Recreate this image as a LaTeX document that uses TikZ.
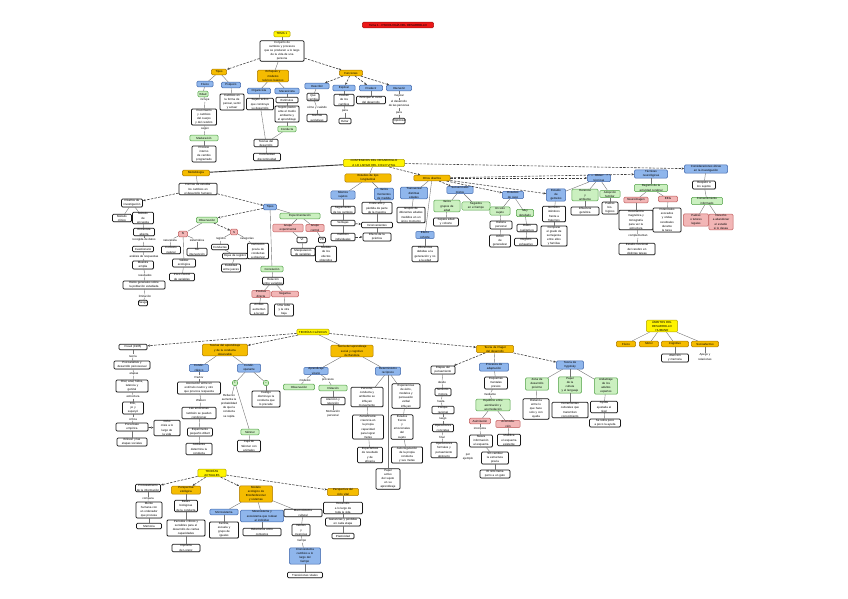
\documentclass[tikz,border=0pt]{standalone}
\usepackage{fontspec}
\setmainfont{Liberation Sans}
\usetikzlibrary{arrows.meta,shadows}
\definecolor{yel}{RGB}{255,244,0}
\definecolor{yelD}{RGB}{175,160,0}
\definecolor{org}{RGB}{245,188,0}
\definecolor{orgD}{RGB}{170,120,0}
\definecolor{blu}{RGB}{143,182,236}
\definecolor{bluD}{RGB}{60,100,170}
\definecolor{grn}{RGB}{203,240,192}
\definecolor{grnD}{RGB}{80,160,70}
\definecolor{pnk}{RGB}{242,182,182}
\definecolor{pnkD}{RGB}{190,90,90}
\definecolor{ttl}{RGB}{236,24,24}

\begin{document}
\begin{tikzpicture}[
  x=1pt, y=-1pt,
  every node/.style={inner sep=0.6pt, align=center, font=\fontsize{2.9}{4.1}\selectfont},
  base/.style={rounded corners=1.2pt, minimum height=5.6pt, line width=0.5pt},
  wb/.style={base, draw=black!90, line width=0.75pt, fill=white, text width=#1pt,
    drop shadow={shadow xshift=0.6pt, shadow yshift=-0.6pt, opacity=0.35}},
  yb/.style={base, draw=yelD, fill=yel, text width=#1pt},
  ob/.style={base, draw=orgD, fill=org, text width=#1pt},
  bb/.style={base, draw=bluD, fill=blu, text width=#1pt},
  gb/.style={base, draw=grnD, fill=grn, text width=#1pt},
  pb/.style={base, draw=pnkD, fill=pnk, text width=#1pt},
  lb/.style={inner sep=0.4pt},
  con/.style={draw=black!55, line width=0.4pt},
  arr/.style={draw=black!75, line width=0.6pt, dash pattern=on 2.4pt off 1.3pt,
    -{Stealth[length=2.6pt,width=2.2pt]}},
  lng/.style={draw=black!80, line width=0.9pt}
]
\useasboundingbox (0,0) rectangle (848,599);

% title
\node[base, draw=ttl!70!black, fill=ttl, text width=70pt] (tt) at (398,25) {Tema 1 - PSICOLOGÍA DEL DESARROLLO};

% upper tree
\node[yb=15] (t0) at (282,34) {TEMA 1};
\node[wb=43] (t1) at (282,51) {Conjunto de\\ cambios y procesos\\ que se producen a lo largo\\ de la vida de una\\ persona};
\node[ob=14] (t2) at (219,72) {Tipos};
\node[ob=30] (t3) at (273,76) {Enfoques y\\ modelos\\ teóricos básicos};
\node[ob=22] (t4) at (351,73) {Funciones};
\node[bb=15] (t5) at (205,84) {Físico};
\node[bb=18] (t6) at (231,85) {Psíquico};
\node[gb=9] (t7) at (203,94) {Edad};
\node[lb] (l1) at (205,100) {incluye};
\node[wb=24] (t8) at (204,117) {Crecimiento\\ y cambios\\ del cuerpo\\ y del cerebro};
\node[lb] (l2) at (205,129) {según};
\node[gb=27] (t9) at (204,138) {Maduración};
\node[wb=23] (t10) at (204,154) {Proceso\\ interno\\ de cambio\\ programado};
\node[wb=23] (t11) at (232,102) {Cambios en\\ la forma de\\ pensar, sentir\\ y actuar};
\node[bb=22] (t12) at (259,91) {Organicista};
\node[bb=23] (t13) at (287,91) {Mecanicista};
\node[wb=26] (t14) at (260,104) {Sujeto activo\\ que construye\\ su desarrollo};
\node[wb=21] (t15) at (287,100) {Estímulos};
\node[wb=23] (t16) at (287,114) {Sujeto pasivo\\ ante el medio\\ ambiente y\\ el aprendizaje};
\node[gb=17] (t17) at (287,129) {Conducta};
\node[wb=23] (t18) at (266,143) {Teorías del\\ desarrollo};
\node[wb=26] (t19) at (267,157) {Continuidad\\ discontinuidad};
\node[bb=23] (t20) at (317,86) {Describir};
\node[bb=21] (t21) at (344,88) {Explicar};
\node[bb=22] (t22) at (371,88) {Predecir};
\node[bb=24] (t23) at (399,88) {Intervenir};
\node[wb=11] (t24) at (313,97) {Qué\\ cambia};
\node[lb] (l3) at (317,108) {cómo y cuándo};
\node[wb=19] (t25) at (317,118) {Normas\\ evolutivas};
\node[wb=19] (t26) at (344,100) {Causas\\ de los\\ cambios};
\node[lb] (l4) at (345,111) {para};
\node[wb=11] (t27) at (345,121) {Evitar};
\node[wb=28] (t28) at (371,100) {Anticipar el curso\\ del desarrollo};
\node[lb] (l5) at (399,96) {mejorar};
\node[lb] (l6) at (399,104) {el desarrollo\\ de las personas};
\node[lb] (l7) at (399,113) {para};
\node[wb=11] (t29) at (399,121) {Optimizar};

% method tree
\node[ob=26] (m0) at (196,173) {Metodología};
\node[wb=37] (m1) at (198,189) {Formas de estudiar\\ los cambios en\\ el desarrollo humano};
\node[wb=20] (m2) at (132,203) {Diseños de\\ investigación};
\node[wb=18] (m3) at (122,218) {Método\\ clínico};
\node[wb=20] (m4) at (143,218) {Método\\ de\\ encuesta};
\node[wb=20] (m5) at (144,232) {Entrevista\\ abierta};
\node[lb] (l8) at (144,240) {recogida de datos};
\node[wb=20] (m6) at (143,249) {Cuestionario};
\node[lb] (l9) at (144,257) {análisis de respuestas};
\node[wb=20] (m7) at (143,265) {Muestra\\ amplia};
\node[lb] (l10) at (145,275) {resultados};
\node[wb=41] (m8) at (144,285) {Datos generales sobre\\ la población estudiada};
\node[lb] (l11) at (145,296) {limitación};
\node[wb=8] (m9) at (143,303) {Sesgo};
\node[bb=12] (m10) at (270,207) {Tipos};
\node[gb=20] (m11) at (207,220) {Observación};
\node[gb=39] (m12) at (300,216) {Experimentación};
\node[pb=29] (m13) at (288,228) {Grupo\\ experimental};
\node[pb=17] (m14) at (315,228) {Grupo\\ control};
\node[wb=9] (m15) at (302,240) {VI};
\node[wb=6] (m16) at (322,240) {VD};
\node[wb=23] (m17) at (303,252) {Manipulación\\ de variables};
\node[wb=20] (m18) at (326,254) {Medida\\ de los\\ efectos\\ obtenidos};
\node[pb=8] (m19) at (183,234) {N};
\node[pb=6] (m20) at (234,232) {S};
\node[lb] (l12) at (170,240) {naturalista};
\node[lb] (l13) at (197,240) {sistemática};
\node[lb] (l14) at (221,239) {registro};
\node[lb] (l15) at (247,239) {categorías};
\node[wb=18] (m21) at (171,250) {Contexto\\ natural};
\node[wb=19] (m22) at (197,252) {Sin\\ intervención};
\node[wb=22] (m23) at (184,263) {Validez\\ ecológica};
\node[wb=24] (m24) at (182,277) {Poco control\\ de variables};
\node[wb=16] (m25) at (220,247) {Conductas};
\node[wb=24] (m26) at (235,256) {Hojas de registro};
\node[wb=18] (m27) at (231,268) {Fiabilidad\\ entre jueces};
\node[wb=20] (m28) at (258,251) {Definición\\ previa de\\ conductas\\ a observar};
\node[gb=21] (m29) at (272,269) {Correlación};
\node[wb=20] (m30) at (273,281) {Relación\\ entre variables};
\node[pb=17] (m31) at (261,294) {Positiva\\ directa};
\node[pb=26] (m32) at (285,294) {Negativa};
\node[wb=17] (m33) at (259,309) {Ambas\\ aumentan\\ a la vez};
\node[wb=18] (m34) at (284,310) {Una sube\\ y la otra\\ baja};

% contents tree
\node[yb=60] (c0) at (374,163) {CONTENIDOS DEL DESARROLLO\\ A LO LARGO DEL CICLO VITAL};
\node[ob=45] (c1) at (368,178) {Estudios de tipo\\ longitudinal};
\node[ob=35] (c2) at (432,178) {Otros diseños};
\node[bb=23] (c3) at (343,195) {Mismos\\ sujetos};
\node[bb=18] (c4) at (384,194) {Varios\\ momentos\\ de medida};
\node[wb=23] (c5) at (343,210) {Seguimiento\\ de los cambios};
\node[wb=23] (c6) at (343,223) {Ventajas};
\node[wb=23] (c7) at (343,237) {Cambios\\ individuales};
\node[wb=29] (c8) at (377,208) {Coste alto y\\ pérdida de parte\\ de la muestra};
\node[wb=30] (c9) at (377,225) {Inconvenientes};
\node[wb=27] (c10) at (377,237) {Efecto de la\\ práctica};
\node[bb=26] (c11) at (414,193) {Transversal\\ distintas\\ edades};
\node[wb=27] (c12) at (411,215) {Grupos de\\ diferentes edades\\ medidos en un\\ único momento};
\node[bb=17] (c13) at (425,235) {Efecto\\ cohorte};
\node[wb=25] (c14) at (425,254) {Diferencias\\ debidas a la\\ generación y no\\ a la edad};
\node[bb=25] (c15) at (460,190) {Secuenciales\\ mixtos};
\node[gb=25] (c16) at (447,206) {Varios\\ grupos de\\ edad};
\node[gb=27] (c17) at (476,206) {Seguidos\\ en el tiempo};
\node[wb=24] (c18) at (446,222) {Separa edad\\ y cohorte};
\node[bb=20] (c19) at (513,195) {Estudios\\ de caso};
\node[gb=19] (c20) at (500,211) {Un solo\\ sujeto};
\node[gb=16] (c21) at (525,213) {Muy\\ detallado};
\node[wb=21] (c22) at (501,225) {Historia\\ personal};
\node[wb=20] (c23) at (500,241) {Difícil\\ de\\ generalizar};
\node[wb=19] (c24) at (527,228) {Datos\\ cualitativos};
\node[wb=22] (c25) at (526,242) {Registro\\ exhaustivo};
\node[bb=18] (c26) at (556,195) {Estudio\\ de\\ gemelos};
\node[gb=25] (c27) at (585,195) {Herencia\\ y\\ ambiente};
\node[gb=19] (c28) at (610,194) {Adopción\\ familiar};
\node[wb=22] (c29) at (554,214) {Gemelos\\ idénticos\\ frente a\\ fraternos};
\node[wb=25] (c30) at (554,236) {Comparar\\ el grado de\\ semejanza\\ entre ellos\\ y familias};
\node[wb=27] (c31) at (585,211) {Influencia\\ genética};
\node[wb=15] (c32) at (610,208) {Padres\\ bio-\\ lógicos};
\node[bb=22] (c33) at (599,178) {Otras\\ técnicas};
\node[bb=32] (c34) at (651,174) {Técnicas\\ neurológicas};
\node[gb=32] (c35) at (651,188) {Registro de la\\ actividad cerebral};
\node[pb=23] (c36) at (636,200) {Neuroimagen};
\node[pb=18] (c37) at (668,199) {EEG};
\node[wb=33] (c38) at (636,220) {Resonancia\\ magnética y\\ tomografía\\ para ver la\\ estructura};
\node[lb] (l16) at (638,236) {complementan};
\node[wb=35] (c39) at (637,249) {Estudio funcional\\ del cerebro en\\ distintas tareas};
\node[wb=27] (c40) at (667,220) {Potenciales\\ evocados\\ y ondas\\ cerebrales\\ durante\\ la tarea};
\node[bb=42] (c41) at (706,169) {Consideraciones éticas\\ en la investigación};
\node[wb=22] (c42) at (704,185) {Respeto a\\ los sujetos};
\node[gb=30] (c43) at (707,201) {Consentimiento\\ informado};
\node[pb=24] (c44) at (696,220) {Padres\\ o tutores\\ legales};
\node[pb=23] (c45) at (721,222) {Derecho\\ a abandonar\\ el estudio\\ si lo desea};

% classic theories
\node[yb=31] (p0) at (313,332) {TEORÍAS CLÁSICAS};
\node[wb=27] (p1) at (133,347) {Freud (1905)};
\node[lb] (l17) at (133,356) {teoría};
\node[wb=35] (p2) at (132,365) {Psicoanálisis y\\ desarrollo psicosexual};
\node[lb] (l18) at (134,374) {etapas};
\node[wb=31] (p3) at (132,386) {Oral, anal, fálica,\\ latencia y\\ genital};
\node[lb] (l19) at (133,397) {estructura};
\node[wb=20] (p4) at (133,408) {Ello,\\ yo y\\ superyó};
\node[lb] (l20) at (133,419) {crítica};
\node[wb=31] (p5) at (132,427) {Poca base\\ empírica};
\node[wb=29] (p6) at (132,442) {Erikson y las\\ etapas sociales};
\node[wb=25] (p7) at (167,428) {Ocho\\ crisis a lo\\ largo de\\ la vida};
\node[ob=44] (p8) at (225,350) {Teorías del aprendizaje\\ y de la conducta\\ observable};
\node[bb=18] (p9) at (199,368) {Condic.\\ clásico};
\node[bb=22] (p10) at (249,368) {Condic.\\ operante};
\node[lb] (l21) at (199,377) {Pavlov};
\node[wb=42] (p11) at (199,388) {Asociación entre un\\ estímulo neutro y otro\\ que provoca respuesta};
\node[lb] (l22) at (201,401) {Watson};
\node[wb=33] (p12) at (199,413) {Las emociones\\ también se pueden\\ condicionar};
\node[wb=24] (p13) at (200,432) {Experimento\\ pequeño Albert};
\node[wb=25] (p14) at (199,449) {Ambiente\\ determina la\\ conducta};
\node[gb=4, circle, inner sep=0.3pt] (p15) at (235,383) {+};
\node[gb=4, circle, inner sep=0.3pt] (p16) at (266,383) {--};
\node[lb] (p17) at (229,406) {Refuerzo\\ aumenta la\\ probabilidad\\ de que la\\ conducta\\ se repita};
\node[gb=17] (p18) at (250,432) {Skinner};
\node[wb=22] (p19) at (249,446) {Caja de\\ Skinner con\\ animales};
\node[wb=27] (p20) at (266,399) {Castigo\\ disminuye la\\ conducta que\\ lo precede};
\node[ob=41] (p21) at (352,351) {Teoría del aprendizaje\\ social y cognitivo\\ de Bandura};
\node[bb=23] (p22) at (316,371) {Aprendizaje\\ vicario};
\node[bb=24] (p23) at (388,371) {Determinismo\\ recíproco};
\node[lb] (l23) at (305,380) {modelos};
\node[lb] (l24) at (328,380) {procesos};
\node[gb=30] (p24) at (299,387) {Observación};
\node[gb=27] (p25) at (333,388) {Imitación};
\node[wb=23] (p26) at (333,401) {Atención y\\ retención};
\node[lb] (p27) at (333,414) {Motivación\\ personal};
\node[wb=31] (p28) at (367,397) {Persona,\\ conducta y\\ ambiente se\\ influyen\\ mutuamente};
\node[wb=30] (p29) at (368,427) {Autoeficacia:\\ creencia en\\ la propia\\ capacidad\\ para lograr\\ metas};
\node[wb=24] (p30) at (370,455) {Expectativas\\ de resultado\\ y de\\ eficacia};
\node[wb=23] (p31) at (388,479) {Papel\\ activo\\ del sujeto\\ en su\\ aprendizaje};
\node[wb=27] (p32) at (406,396) {Experiencias\\ de éxito,\\ modelos y\\ persuasión\\ verbal\\ influyen};
\node[wb=21] (p33) at (402,427) {Estados\\ físicos\\ y\\ emocionales\\ del\\ sujeto};
\node[wb=30] (p34) at (407,455) {Autorregulación\\ de la propia\\ conducta\\ y sus metas};
\node[ob=36] (p35) at (495,349) {Teoría de Piaget\\ del desarrollo};
\node[wb=23] (p36) at (443,370) {Etapas del\\ pensamiento};
\node[lb] (l25) at (442,382) {desde};
\node[wb=15] (p37) at (443,392) {Sensorio-\\ motora};
\node[lb] (l26) at (441,401) {hasta};
\node[wb=21] (p38) at (443,410) {Preope-\\ racional};
\node[lb] (l27) at (443,419) {luego};
\node[wb=20] (p39) at (443,428) {Operaciones\\ concretas};
\node[lb] (l28) at (442,437) {final};
\node[wb=25] (p40) at (444,450) {Operaciones\\ formales y\\ pensamiento\\ abstracto};
\node[bb=28] (p41) at (494,367) {Procesos de\\ adaptación};
\node[wb=22] (p42) at (496,383) {Esquemas\\ mentales\\ previos};
\node[lb] (l29) at (490,394) {mediante};
\node[gb=33] (p43) at (493,405) {Equilibrio entre\\ asimilación y\\ acomodación};
\node[pb=20] (p44) at (480,421) {Asimilación};
\node[pb=23] (p45) at (508,424) {Acomoda-\\ ción};
\node[lb] (l30) at (480,429) {incorpora};
\node[wb=22] (p46) at (481,441) {Nueva\\ información\\ al esquema};
\node[wb=26] (p47) at (495,458) {Sin cambiar\\ la estructura\\ previa};
\node[lb] (l31) at (468,457) {por\\ ejemplo};
\node[wb=29] (p48) at (495,474) {El niño llama\\ perro a un gato};
\node[wb=22] (p49) at (509,440) {Modifica\\ el esquema\\ existente};
\node[bb=26] (p50) at (570,365) {Teoría de\\ Vygotsky};
\node[gb=22] (p51) at (537,384) {Zona de\\ desarrollo\\ próximo};
\node[gb=22] (p52) at (570,385) {Papel\\ de la\\ cultura\\ y el lenguaje};
\node[gb=22] (p53) at (606,386) {Andamiaje\\ de los\\ adultos\\ expertos};
\node[wb=25] (p54) at (536,409) {Distancia\\ entre lo\\ que hace\\ solo y con\\ ayuda};
\node[wb=35] (p55) at (570,410) {Herramientas\\ culturales que\\ transmiten\\ conocimiento};
\node[wb=26] (p56) at (604,407) {Ayuda\\ ajustada al\\ nivel};
\node[wb=30] (p57) at (605,423) {Se retira poco\\ a poco la ayuda};

% current theories
\node[yb=27] (b0) at (212,473) {TEORÍAS\\ ACTUALES};
\node[wb=24] (b1) at (148,488) {Procesamiento\\ de la información};
\node[lb] (l32) at (148,499) {compara};
\node[wb=25] (b2) at (149,510) {Mente\\ humana con\\ un ordenador\\ que procesa};
\node[wb=24] (b3) at (149,526) {Memoria};
\node[ob=28] (b4) at (186,490) {Perspectiva\\ etológica};
\node[wb=22] (b5) at (186,506) {Bases\\ biológicas\\ de la conducta};
\node[wb=37] (b6) at (186,528) {Periodos críticos y\\ sensibles para el\\ desarrollo de ciertas\\ capacidades};
\node[wb=27] (b7) at (186,548) {Impronta\\ de Lorenz};
\node[ob=32] (b8) at (256,494) {Modelo\\ ecológico de\\ Bronfenbrenner\\ y sistemas};
\node[bb=27] (b9) at (224,512) {Microsistema};
\node[bb=42] (b10) at (262,516) {Mesosistema y\\ exosistema que rodean\\ al individuo};
\node[wb=37] (b11) at (303,513) {Macrosistema\\ cultural};
\node[wb=28] (b12) at (224,530) {Familia,\\ escuela y\\ grupo de\\ iguales};
\node[wb=37] (b13) at (262,532) {Relaciones entre\\ contextos};
\node[wb=17] (b14) at (301,530) {Valores\\ y\\ creencias};
\node[lb] (l33) at (302,541) {tiempo};
\node[bb=30] (b15) at (305,556) {Cronosistema\\ cambios a lo\\ largo del\\ tiempo};
\node[wb=34] (b16) at (305,575) {Transiciones vitales};
\node[ob=30] (b17) at (343,492) {Perspectiva del\\ ciclo vital};
\node[wb=38] (b18) at (343,508) {Desarrollo\\ a lo largo de\\ toda la vida};
\node[wb=34] (b19) at (343,522) {Ganancias y pérdidas\\ en cada etapa};
\node[wb=21] (b20) at (343,536) {Plasticidad};

% domains
\node[yb=30] (r0) at (662,326) {ÁMBITOS DEL\\ DESARROLLO\\ HUMANO};
\node[ob=18] (r1) at (626,344) {Físico};
\node[ob=18] (r2) at (649,344) {Motor};
\node[ob=26] (r3) at (675,344) {Cognitivo};
\node[ob=26] (r4) at (705,344) {Socioafectivo};
\node[wb=26] (r5) at (675,358) {Atención\\ y memoria};
\node[lb] (r6) at (705,357) {Apego y\\ relaciones};

% connectors
\foreach \a/\b in {t0/t1, t1/t3, t2/t5, t2/t6, t5/t7, t7/l1, l1/t8, t8/l2, l2/t9, t9/t10,
  t6/t11, t3/t12, t3/t13, t12/t14, t13/t15, t15/t16, t16/t17, t14/t18, t17/t18, t18/t19,
  t20/t24, t24/l3, l3/t25, t21/t26, t26/l4, l4/t27, t22/t28, t23/l5, l5/l6, l6/l7, l7/t29,
  m0/m1, m2/m3, m2/m4, m4/m5, m5/l8, l8/m6, m6/l9, l9/m7, m7/l10, l10/m8, m8/l11, l11/m9,
  m10/m12, m12/m13, m12/m14, m13/m15, m14/m16, m15/m17, m16/m18,
  m11/m19, m19/l12, m19/l13, l12/m21, l13/m22, m19/m23, m23/m24,
  m20/l14, m20/l15, l14/m25, m25/m26, m26/m27, l15/m28, m10/m29, m29/m30, m30/m31, m30/m32,
  m31/m33, m32/m34,
  c0/c1, c1/c3, c1/c4, c3/c5, c5/c6, c6/c7, c4/c8, c8/c9, c9/c10, c2/c11, c11/c12, c2/c13,
  c13/c14, c15/c16, c15/c17, c16/c18, c19/c20, c19/c21, c20/c22, c22/c23, c21/c24, c24/c25,
  c26/c29, c29/c30, c33/c26, c33/c27, c33/c28, c27/c31, c28/c32,
  c34/c35, c35/c36, c35/c37, c36/c38, c38/l16, l16/c39, c37/c40,
  c41/c42, c42/c43, c43/c44, c43/c45,
  p0/p21, p1/l17, l17/p2, p2/l18, l18/p3, p3/l19, l19/p4, p4/l20, l20/p5, p5/p6,
  p8/p9, p8/p10, p9/l21, l21/p11, p11/l22, l22/p12, p12/p13, p13/p14,
  p10/p15, p10/p16, p15/p17, p15/p18, p18/p19, p16/p20,
  p21/p22, p21/p23, p22/l23, p22/l24, l23/p24, l24/p25, p25/p26, p26/p27,
  p23/p28, p28/p29, p29/p30, p23/p32, p32/p33, p33/p34, p23/p31,
  p35/p41, p36/l25, l25/p37, p37/l26, l26/p38, p38/l27, l27/p39, p39/l28, l28/p40,
  p41/p42, p42/l29, l29/p43, p43/p44, p43/p45, p44/l30, l30/p46, p46/p47, p47/p48, p45/p49,
  p50/p51, p50/p52, p50/p53, p51/p54, p52/p55, p53/p56, p56/p57,
  b1/l32, l32/b2, b2/b3, b4/b5, b5/b6, b6/b7, b8/b9, b8/b10, b8/b11, b9/b12, b10/b13,
  b11/b14, b14/l33, l33/b15, b15/b16, b17/b18, b18/b19, b19/b20,
  r0/r1, r0/r2, r0/r3, r0/r4, r3/r5, r4/r6}
  \draw[con] (\a) -- (\b);

% dashed arrows
\foreach \a/\b in {t1/t2, t1/t4, t4/t20, t4/t21, t4/t22, t4/t23,
  m1/m2, m1/m10, m10/m11, m11/m20,
  c0/c2, c2/c15, c2/c19, c2/c26, c2/c33, c2/c34, c0/c41,
  c6/c9, c7/c10,
  p0/p1, p0/p8, p0/p35, p35/p36, p35/p50, p5/p7,
  b0/b1, b0/b4, b0/b8, b0/b17}
  \draw[arr] (\a) -- (\b);

\draw[lng] (m0) -- (c0);
\end{tikzpicture}
\end{document}
